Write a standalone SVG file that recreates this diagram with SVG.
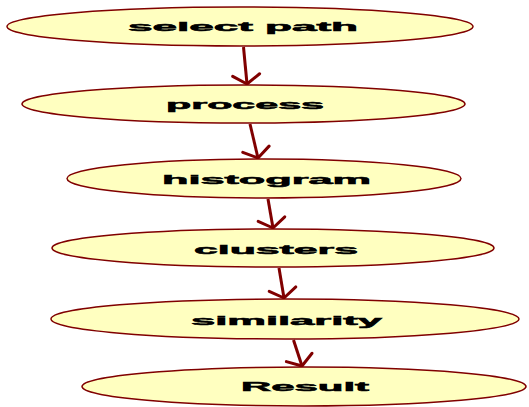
<svg xmlns="http://www.w3.org/2000/svg" width="529" height="407" viewBox="0 0 529 407">
  <style>
    .node ellipse { fill: #ffffc0; stroke: #800000; stroke-width: 1.5; }
    .node text { font-family: "Liberation Sans", Arial, sans-serif; font-weight: bold; font-size: 12px; fill: #000; stroke: #000; stroke-width: 0.5; text-anchor: middle; }
    .edge { stroke: #800000; stroke-width: 3; fill: none; marker-end: url(#arrow); }
  </style>
  <defs>
    <marker id="arrow" markerUnits="userSpaceOnUse" viewBox="-12 -16 14 32" refX="0" refY="0" markerWidth="14" markerHeight="32" orient="auto" overflow="visible">
      <path d="M -9 -13.5 L 0 0 L -9 13.5" fill="none" stroke="#800000" stroke-width="3" stroke-linejoin="round" stroke-linecap="round"/>
    </marker>
  </defs>

  <g id="connectors">
    <line class="edge" x1="243.5" y1="47" x2="247" y2="84"/>
    <line class="edge" x1="250" y1="124" x2="258" y2="158"/>
    <line class="edge" x1="268" y1="199" x2="273" y2="228"/>
    <line class="edge" x1="279" y1="268" x2="284" y2="298"/>
    <line class="edge" x1="293.5" y1="340" x2="302" y2="366"/>
  </g>

  <g id="select-path" class="node">
    <ellipse cx="240" cy="26.5" rx="233" ry="19.5"/>
    <text x="243" y="30.5" textLength="230" lengthAdjust="spacingAndGlyphs">select path</text>
  </g>
  <g id="process" class="node">
    <ellipse cx="243.5" cy="104" rx="221.5" ry="19"/>
    <text x="245" y="108.5" textLength="158" lengthAdjust="spacingAndGlyphs">process</text>
  </g>
  <g id="histogram" class="node">
    <ellipse cx="264" cy="178.5" rx="197" ry="19.5"/>
    <text x="266.5" y="183.5" textLength="209" lengthAdjust="spacingAndGlyphs">histogram</text>
  </g>
  <g id="clusters" class="node">
    <ellipse cx="273" cy="248" rx="221" ry="19"/>
    <text x="276" y="253.5" textLength="164" lengthAdjust="spacingAndGlyphs">clusters</text>
  </g>
  <g id="similarity" class="node">
    <ellipse cx="285" cy="319" rx="234" ry="20"/>
    <text x="286.5" y="324.5" textLength="191" lengthAdjust="spacingAndGlyphs">similarity</text>
  </g>
  <g id="result" class="node">
    <ellipse cx="304" cy="386.5" rx="222" ry="19.5"/>
    <text x="305" y="390.5" textLength="128" lengthAdjust="spacingAndGlyphs">Result</text>
  </g>
</svg>
